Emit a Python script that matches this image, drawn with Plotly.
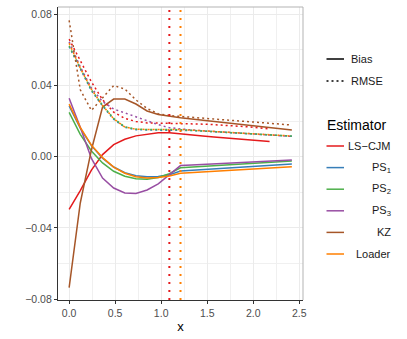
import plotly.graph_objects as go

# ---------------- data ----------------
x = [0.0, 0.121, 0.242, 0.363, 0.484, 0.605, 0.726, 0.847, 0.968, 1.089, 1.21,
     1.331, 1.452, 1.573, 1.694, 1.815, 1.936, 2.057, 2.178, 2.299, 2.42]
x_lscjm = x[:19]

lscjm_bias = [-0.0296, -0.019, -0.0075, 0.0012, 0.0068, 0.0098, 0.0117, 0.0128, 0.0135, 0.0134,
              0.0127, 0.0121, 0.0116, 0.0111, 0.0106, 0.0101, 0.0096, 0.0091, 0.0085]
lscjm_rmse = [0.066, 0.054, 0.042, 0.032, 0.025, 0.0215, 0.0198, 0.019, 0.0189, 0.0189,
              0.0188, 0.0186, 0.0183, 0.018, 0.0177, 0.0173, 0.0168, 0.0162, 0.0156]

ps1_bias = [0.0285, 0.016, 0.0062, -0.0008, -0.0058, -0.009, -0.0107, -0.0113, -0.0111, -0.0102,
            -0.0080, -0.0076, -0.0072, -0.0068, -0.0064, -0.0061, -0.0057, -0.0053, -0.0049, -0.0045, -0.0041]
ps2_bias = [0.0249, 0.0125, 0.0032, -0.0035, -0.0082, -0.011, -0.0124, -0.0127, -0.0117, -0.0095,
            -0.0062, -0.0058, -0.0054, -0.0050, -0.0047, -0.0043, -0.0039, -0.0035, -0.0031, -0.0028, -0.0024]
ps3_bias = [0.0328, 0.0165, -0.001, -0.012, -0.0176, -0.0204, -0.0207, -0.0187, -0.0153, -0.0103,
            -0.0050, -0.0047, -0.0044, -0.0041, -0.0038, -0.0035, -0.0031, -0.0028, -0.0025, -0.0022, -0.0019]
kz_bias = [-0.0736, -0.026, 0.0038, 0.0279, 0.0324, 0.0324, 0.0296, 0.0257, 0.0237, 0.0226,
           0.0219, 0.0212, 0.0205, 0.0198, 0.0191, 0.0184, 0.0177, 0.017, 0.0164, 0.0157, 0.015]
loader_bias = [0.0295, 0.0165, 0.0065, -0.0005, -0.0058, -0.0093, -0.0112, -0.0119, -0.0117, -0.0108,
               -0.0093, -0.0089, -0.0085, -0.0082, -0.0078, -0.0075, -0.0071, -0.0067, -0.0063, -0.0060, -0.0056]

ps1_rmse = [0.0618, 0.049, 0.037, 0.0285, 0.021, 0.0165, 0.0152, 0.015, 0.015, 0.0151,
            0.0151, 0.0147, 0.0144, 0.014, 0.0136, 0.0133, 0.0129, 0.0125, 0.0122, 0.0118, 0.0115]
ps2_rmse = [0.0622, 0.0495, 0.0375, 0.029, 0.0215, 0.0168, 0.0155, 0.0153, 0.0153, 0.0153,
            0.0152, 0.0148, 0.0145, 0.0141, 0.0137, 0.0134, 0.013, 0.0126, 0.0123, 0.0119, 0.0116]
ps3_rmse = [0.0645, 0.0505, 0.0385, 0.031, 0.0268, 0.0246, 0.0228, 0.0205, 0.018, 0.0163,
            0.0155, 0.015, 0.0146, 0.0142, 0.0138, 0.0134, 0.013, 0.0126, 0.0122, 0.0118, 0.0114]
kz_rmse = [0.0766, 0.0376, 0.026, 0.033, 0.040, 0.038, 0.0319, 0.0271, 0.0241, 0.0231,
           0.0226, 0.0221, 0.0216, 0.0212, 0.0207, 0.0202, 0.0197, 0.0192, 0.0188, 0.0183, 0.0178]
loader_rmse = [0.0637, 0.0498, 0.0378, 0.0288, 0.0213, 0.0167, 0.0154, 0.0152, 0.0152, 0.0152,
               0.0153, 0.0149, 0.0145, 0.0142, 0.0138, 0.0134, 0.0131, 0.0127, 0.0123, 0.012, 0.0116]

cutoffs = [1.089, 1.21]
cutoff_names = ["LS-CJM", "Loader"]

estimators = ["LS-CJM", "PS1", "PS2", "PS3", "KZ", "Loader"]
estimator_labels = ["LS\u2212CJM", "PS<sub>1</sub>", "PS<sub>2</sub>", "PS<sub>3</sub>", "KZ", "Loader"]
colors = {"LS-CJM": "#E41A1C", "PS1": "#377EB8", "PS2": "#4DAF4A",
          "PS3": "#984EA3", "KZ": "#A65628", "Loader": "#FF7F00"}
measures = ["Bias", "RMSE"]

series = {
    "LS-CJM": (x_lscjm, lscjm_bias, lscjm_rmse),
    "PS1": (x, ps1_bias, ps1_rmse),
    "PS2": (x, ps2_bias, ps2_rmse),
    "PS3": (x, ps3_bias, ps3_rmse),
    "KZ": (x, kz_bias, kz_rmse),
    "Loader": (x, loader_bias, loader_rmse),
}

DOT = "2px,3px"
FONT = "Liberation Sans, Arial, sans-serif"

fig = go.Figure()
for est in estimators:
    xs, b, r = series[est]
    fig.add_trace(go.Scatter(x=xs, y=b, mode="lines", showlegend=False,
                             line=dict(color=colors[est], width=1.5)))
for est in estimators:
    xs, b, r = series[est]
    fig.add_trace(go.Scatter(x=xs, y=r, mode="lines", showlegend=False,
                             line=dict(color=colors[est], width=1.5, dash=DOT)))

shapes = []
for c, nm in zip(cutoffs, cutoff_names):
    shapes.append(dict(type="line", xref="x", yref="y domain", x0=c, x1=c, y0=0, y1=1,
                       line=dict(color=colors[nm], width=2, dash="2px,6px"), layer="above"))

# panel border (top / right, light grey)
shapes.append(dict(type="line", xref="paper", yref="paper", x0=0, x1=1, y0=1, y1=1,
                   line=dict(color="#b3b3b3", width=1)))
shapes.append(dict(type="line", xref="paper", yref="paper", x0=1, x1=1, y0=0, y1=1,
                   line=dict(color="#b3b3b3", width=1)))

# ---- manual legend ----
L, R, T, B = 58, 104, 7, 39
W, H = 407, 339
PW, PH = W - L - R, H - T - B


def px(v):
    return (v - L) / PW


def py(v):
    return (H - B - v) / PH


annotations = []
key_x0, key_x1 = 326.5, 344
for i, (m, d) in enumerate(zip(measures, [None, DOT])):
    yy = 59 + i * 22
    shapes.append(dict(type="line", xref="paper", yref="paper", x0=px(key_x0), x1=px(key_x1),
                       y0=py(yy), y1=py(yy), line=dict(color="black", width=1.5, dash=d)))
    annotations.append(dict(xref="paper", yref="paper", x=px(349), y=py(yy), text=m,
                            showarrow=False, xanchor="left", yanchor="middle",
                            font=dict(size=11, color="#1a1a1a", family=FONT)))

annotations.append(dict(xref="paper", yref="paper", x=px(324.5), y=py(125), text="Estimator",
                        showarrow=False, xanchor="left", yanchor="middle",
                        font=dict(size=14, color="black", family=FONT)))
for i, (est, lab) in enumerate(zip(estimators, estimator_labels)):
    yy = 146 + i * 21.6
    shapes.append(dict(type="line", xref="paper", yref="paper", x0=px(key_x0), x1=px(key_x1),
                       y0=py(yy), y1=py(yy), line=dict(color=colors[est], width=1.5)))
    annotations.append(dict(xref="paper", yref="paper", x=px(393), y=py(yy), text=lab,
                            showarrow=False, xanchor="right", yanchor="middle",
                            font=dict(size=11, color="#1a1a1a", family=FONT)))

fig.update_layout(
    width=W, height=H, autosize=False,
    margin=dict(l=L, r=R, t=T, b=B, pad=0),
    paper_bgcolor="white", plot_bgcolor="white",
    font=dict(family=FONT),
    shapes=shapes, annotations=annotations,
    showlegend=False,
)
fig.update_xaxes(
    range=[-0.121, 2.541], tickvals=[0, 0.5, 1.0, 1.5, 2.0, 2.5], tickformat=".1f",
    showgrid=True, gridcolor="#ebebeb", gridwidth=1,
    minor=dict(tickvals=[0.25, 0.75, 1.25, 1.75, 2.25], showgrid=True, gridcolor="#f0f0f0", gridwidth=0.6),
    showline=True, linecolor="#333333", linewidth=1.2,
    ticks="outside", ticklen=3, tickcolor="#333333", tickwidth=1,
    tickfont=dict(size=10.5, color="#4d4d4d", family=FONT),
    title=dict(text="x", font=dict(size=13, color="black", family=FONT), standoff=4),
    zeroline=False,
)
fig.update_yaxes(
    range=[-0.0805, 0.0841], tickvals=[-0.08, -0.04, 0.0, 0.04, 0.08], tickformat=".2f",
    showgrid=True, gridcolor="#ebebeb", gridwidth=1,
    minor=dict(tickvals=[-0.06, -0.02, 0.02, 0.06], showgrid=True, gridcolor="#f0f0f0", gridwidth=0.6),
    showline=True, linecolor="#333333", linewidth=1.2,
    ticks="outside", ticklen=3, tickcolor="#333333", tickwidth=1,
    tickfont=dict(size=10.5, color="#4d4d4d", family=FONT),
    zeroline=False,
)

fig.write_html("out.html",
               config={"displayModeBar": False},
               post_script="document.body.style.margin='0';document.body.style.overflow='hidden';")
